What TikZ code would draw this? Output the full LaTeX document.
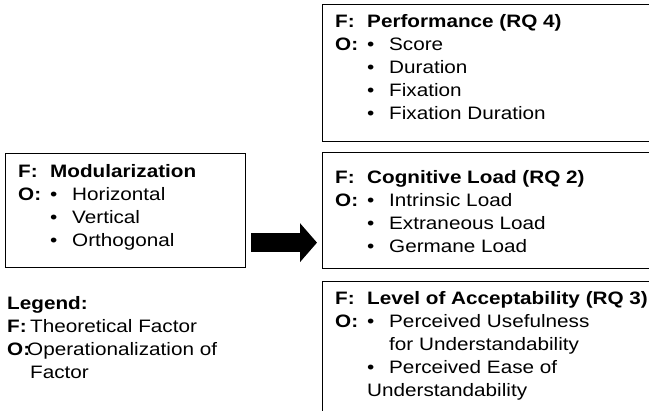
\documentclass[tikz,border=0pt]{standalone}
\usepackage{fontspec}
\setmainfont{Liberation Sans}[FakeStretch=1.15]
\usetikzlibrary{arrows.meta}

\tikzset{
	box/.style={draw, line width=1.3pt, anchor=north west, inner sep=0pt},
	txt/.style={anchor=base west, inner sep=0pt, font=\fontsize{18}{23}\selectfont},
	conn/.style={line width=19pt, -{Triangle[length=17pt,width=38pt]}}
}
\newcommand{\fo}[1]{\textbf{#1}}
\newcommand{\allcols}[1]{\multicolumn{2}{@{}l@{}}{#1}}

\begin{document}
\begin{tikzpicture}[x=1pt,y=-1pt]
	\useasboundingbox (0,0) rectangle (649,411);

	% Boxes
	\node[box, minimum width=240pt, minimum height=114pt] (mod) at (5,153) {};
	\node[box, minimum width=340pt, minimum height=137pt] (perf) at (322,4) {};
	\node[box, minimum width=340pt, minimum height=116pt] (cog) at (322,152) {};
	\node[box, minimum width=340pt, minimum height=140pt] (acc) at (322,281) {};

	% Texts in the boxes
	\node[txt] (modtxt) at ([shift={(13,25)}]mod.north west) {%
		\begin{tabular}[t]{@{}p{32pt}@{}p{22pt}@{}l@{}}
			\fo{F:} & \allcols{\fo{Modularization}} \\
			\fo{O:} & • & Horizontal \\
			        & • & Vertical \\
			        & • & Orthogonal
		\end{tabular}};
	\node[txt] (perftxt) at ([shift={(13,24)}]perf.north west) {%
		\begin{tabular}[t]{@{}p{32pt}@{}p{22pt}@{}l@{}}
			\fo{F:} & \allcols{\fo{Performance (RQ 4)}} \\
			\fo{O:} & • & Score \\
			        & • & Duration \\
			        & • & Fixation \\
			        & • & Fixation Duration
		\end{tabular}};
	\node[txt] (cogtxt) at ([shift={(13,32)}]cog.north west) {%
		\begin{tabular}[t]{@{}p{32pt}@{}p{22pt}@{}l@{}}
			\fo{F:} & \allcols{\fo{Cognitive Load (RQ 2)}} \\
			\fo{O:} & • & Intrinsic Load \\
			        & • & Extraneous Load \\
			        & • & Germane Load
		\end{tabular}};
	\node[txt] (acctxt) at ([shift={(13,24)}]acc.north west) {%
		\begin{tabular}[t]{@{}p{32pt}@{}p{22pt}@{}l@{}}
			\fo{F:} & \allcols{\fo{Level of Acceptability (RQ 3)}} \\
			\fo{O:} & • & Perceived Usefulness \\
			        &   & for Understandability \\
			        & • & Perceived Ease of \\
			        & \allcols{Understandability}
		\end{tabular}};

	% Legend
	\node[txt] (legend) at (7,310) {%
		\begin{tabular}[t]{@{}p{20pt}@{}l@{}}
			\allcols{\fo{Legend:}} \\
			\fo{F:} & \,Theoretical Factor \\
			\fo{O:} & Operationalization of \\
			        & \,Factor
		\end{tabular}};

	% Arrow
	\draw[conn] ([shift={(5,32)}]mod.east) -- ([shift={(-5,32)}]cog.west);
\end{tikzpicture}
\end{document}
